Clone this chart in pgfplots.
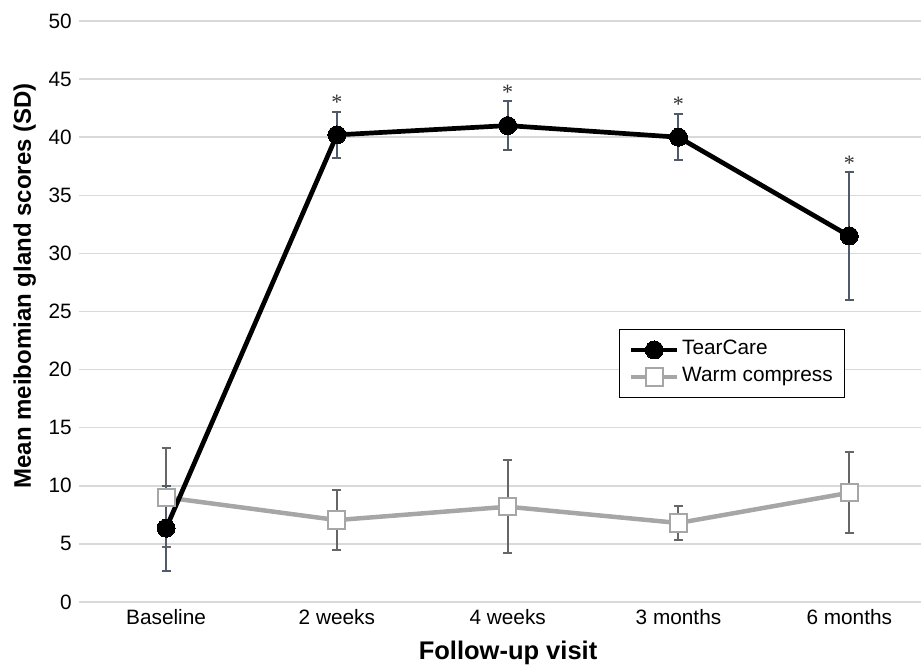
\documentclass[border=0pt]{standalone}
\usepackage{fontspec}
\setmainfont{Liberation Sans}
\newfontfamily\starfont{Liberation Serif}
\usepackage{pgfplots}
\pgfplotsset{compat=1.18}

\definecolor{gridgray}{HTML}{D9D9D9}
\definecolor{warmgray}{HTML}{A6A6A6}
\definecolor{barslate}{HTML}{4F5B6B}
\definecolor{bargray}{HTML}{666666}

\begin{document}
\begin{tikzpicture}
\begin{axis}[
  at={(79pt,62pt)}, anchor=south west,
  scale only axis,
  width=842pt, height=581pt,
  xmin=-0.51, xmax=4.42,
  ymin=0, ymax=50,
  ytick={0,5,...,50},
  xtick={0,...,4},
  xticklabels={Baseline,2 weeks,4 weeks,3 months,6 months},
  ymajorgrids,
  grid style={line width=1.5pt, gridgray},
  axis line style={draw=none},
  major tick length=0pt,
  /pgf/number format/assume math mode=true,
  tick label style={font=\fontsize{20.8}{25}\selectfont},
  yticklabel style={anchor=east, inner sep=0pt, xshift=-7pt},
  xticklabel style={anchor=base, inner sep=0pt, yshift=-22pt},
  xlabel={Follow-up visit},
  ylabel={Mean meibomian gland scores (SD)},
  xlabel style={font=\fontsize{25.5}{30}\selectfont\bfseries,
    at={(axis description cs:0.5095,0)}, anchor=base, yshift=-57pt},
  ylabel style={font=\fontsize{24}{28}\selectfont\bfseries,
    at={(axis description cs:0,0.544)}, anchor=base, yshift=48pt},
  reverse legend,
  legend cell align=left,
  legend style={at={(axis description cs:0.6413,0.4699)}, anchor=north west,
    draw=black, line width=1pt, fill=white,
    font=\fontsize{20.8}{25}\selectfont,
    inner xsep=9.5pt, inner ysep=7pt,
    row sep=0pt,
    nodes={inner xsep=2.5pt, inner ysep=2.5pt, text height=16pt, text depth=6pt},
    /tikz/every even column/.append style={column sep=4pt}},
  legend image code/.code={
    \draw[mark repeat=2,mark phase=2,#1] plot coordinates {(0pt,0pt)(23pt,0pt)(46pt,0pt)};
  },
]
% Warm compress
\addplot[warmgray, line width=4.5pt,
  mark=square*, mark size=8.6pt,
  mark options={solid, fill=white, draw=warmgray, line width=2pt},
  error bars/.cd, y dir=both, y explicit,
  error bar style={line width=2pt, bargray},
  error mark options={rotate=90, line width=2pt, bargray, mark size=4.5pt}]
coordinates {
  (0,9.0)  +- (0,4.25)
  (1,7.05) +- (0,2.6)
  (2,8.2)  +- (0,4.0)
  (3,6.8)  +- (0,1.5)
  (4,9.4)  +- (0,3.5)
};
\addlegendentry{Warm compress}
% TearCare
\addplot[black, line width=4.7pt,
  mark=*, mark size=9pt,
  mark options={solid, fill=black, draw=black, line width=0pt},
  error bars/.cd, y dir=both, y explicit,
  error bar style={line width=2pt, barslate},
  error mark options={rotate=90, line width=2pt, barslate, mark size=4.5pt}]
coordinates {
  (0,6.35) +- (0,3.65)
  (1,40.2) +- (0,2.0)
  (2,41.0) +- (0,2.1)
  (3,40.0) +- (0,2.0)
  (4,31.5) +- (0,5.5)
};
\addlegendentry{TearCare}
% significance marks above the upper SD ends
\addplot[draw=none, mark=none, forget plot,
  nodes near coords={\starfont *},
  every node near coord/.append style={anchor=base, inner sep=0pt,
    yshift=2pt, font=\fontsize{22}{26}\selectfont, text=black!80}]
coordinates {(1,42.2) (2,43.1) (3,42.0) (4,37.0)};
\end{axis}
\pgfresetboundingbox
\useasboundingbox (0,0) rectangle (921pt,664pt);
\end{tikzpicture}
\end{document}
